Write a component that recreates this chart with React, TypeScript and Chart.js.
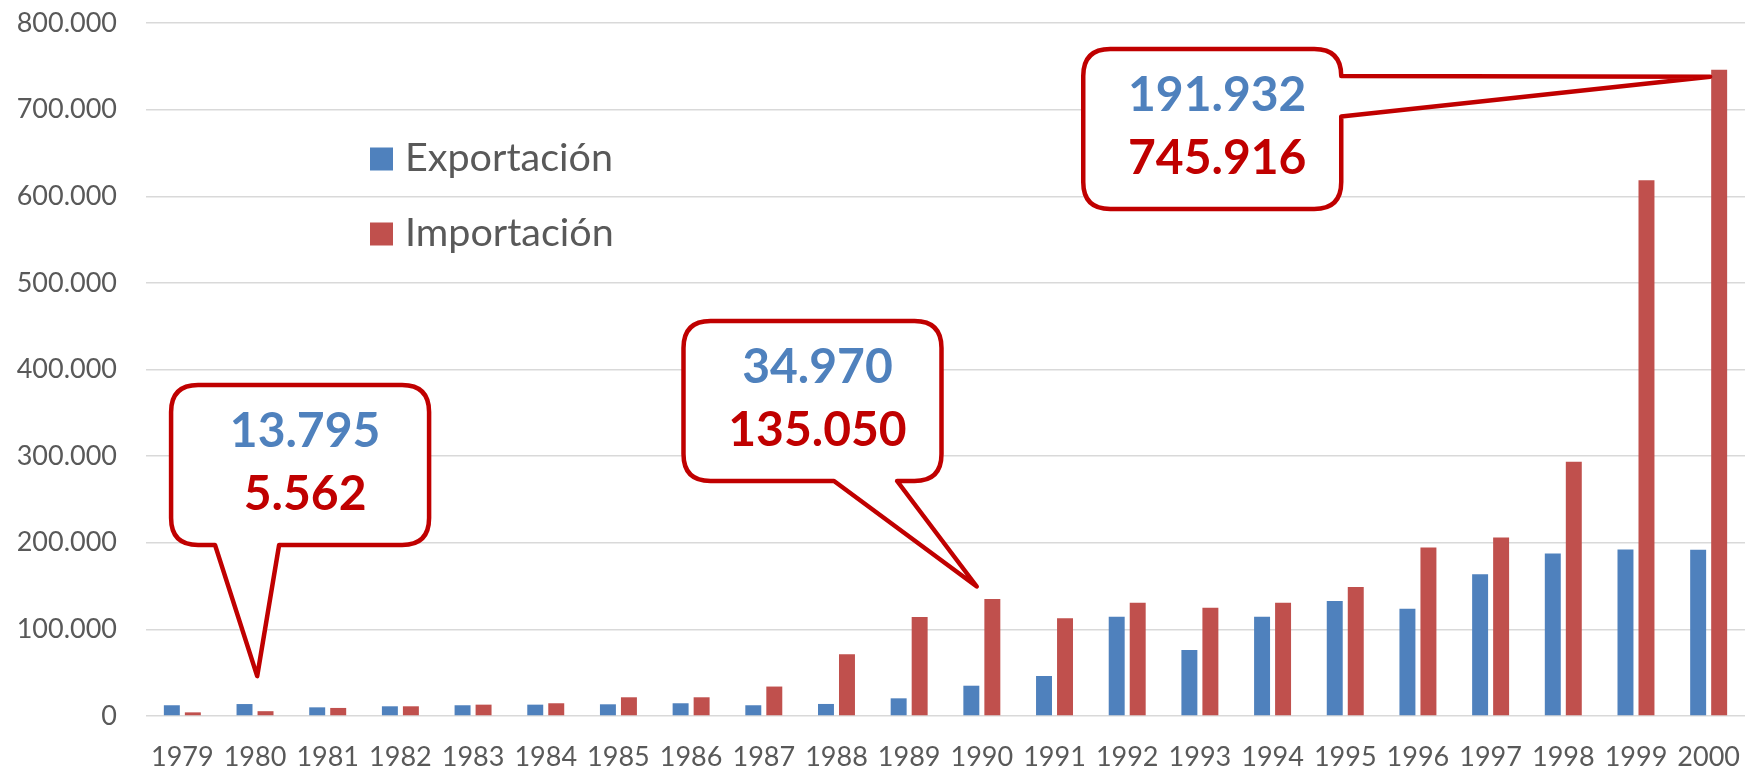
import React, { useEffect, useRef } from 'react';
import { Chart, registerables } from 'chart.js';

Chart.register(...registerables);

// ---------- data ----------
const years = ['1979', '1980', '1981', '1982', '1983', '1984', '1985', '1986', '1987', '1988', '1989', '1990', '1991', '1992', '1993', '1994', '1995', '1996', '1997', '1998', '1999', '2000'];
const exportacion = [12400, 13795, 10000, 11200, 12400, 13100, 13500, 14700, 12400, 13900, 20400, 34970, 46200, 114600, 76200, 114600, 132700, 123800, 163500, 187700, 192300, 191932];
const importacion = [4200, 5562, 9300, 11200, 13100, 14700, 21600, 21600, 34000, 71400, 114200, 135050, 112700, 130800, 125000, 130800, 148800, 194600, 206200, 293600, 618400, 745916];
const seriesLabels = ['Exportación', 'Importación'];
const yMin = 0;
const yMax = 800000;
const yStep = 100000;
const calloutYears = ['1980', '1990', '2000'];

// ---------- styles / layout ----------
const seriesColors = ['#4F81BD', '#C0504D'];
const textColor = '#595959';
const gridColor = '#D9D9D9';
const calloutLine = '#C00000';
const calloutRed = '#C00000';
const FONT = 'Lato, "Open Sans", sans-serif';

// callout geometry: box centre in category units, box top in value units, tail tip in category/value units
const calloutLayout = [
  { boxX: 1.62, boxTop: 382000, tipX: 1.03, tipV: 46000, side: 'bottom', t1: 44, t2: 108 },
  { boxX: 8.67, boxTop: 456000, tipX: 10.93, tipV: 149500, side: 'bottom', t1: 150.5, t2: 213.6 },
  { boxX: 14.17, boxTop: 770000, tipX: 21.02, tipV: 738000, side: 'right', t1: 27, t2: 67.5 },
];
const BOX_W = 258;
const BOX_H = 160;
const BOX_R = 27;

const fmt = (v: number) => String(Math.round(v)).replace(/\B(?=(\d{3})+(?!\d))/g, '.');

const calloutPlugin = {
  id: 'callouts',
  afterDatasetsDraw(chart: any) {
    const { ctx, scales } = chart;
    const x = scales.x;
    const y = scales.y;
    const x0 = x.getPixelForValue(0);
    const catW = x.getPixelForValue(1) - x0;
    calloutLayout.forEach((c, i) => {
      const idx = years.indexOf(calloutYears[i]);
      const cx = x0 + c.boxX * catW;
      const left = cx - BOX_W / 2;
      const right = cx + BOX_W / 2;
      const top = y.getPixelForValue(c.boxTop);
      const bottom = top + BOX_H;
      const tx = x0 + c.tipX * catW;
      const ty = y.getPixelForValue(c.tipV);
      const r = BOX_R;
      ctx.save();
      ctx.beginPath();
      ctx.moveTo(left + r, top);
      ctx.lineTo(right - r, top);
      ctx.quadraticCurveTo(right, top, right, top + r);
      if (c.side === 'right') {
        ctx.lineTo(right, top + c.t1);
        ctx.lineTo(tx, ty);
        ctx.lineTo(right, top + c.t2);
      }
      ctx.lineTo(right, bottom - r);
      ctx.quadraticCurveTo(right, bottom, right - r, bottom);
      if (c.side === 'bottom') {
        ctx.lineTo(left + c.t2, bottom);
        ctx.lineTo(tx, ty);
        ctx.lineTo(left + c.t1, bottom);
      }
      ctx.lineTo(left + r, bottom);
      ctx.quadraticCurveTo(left, bottom, left, bottom - r);
      ctx.lineTo(left, top + r);
      ctx.quadraticCurveTo(left, top, left + r, top);
      ctx.closePath();
      ctx.fillStyle = '#FFFFFF';
      ctx.fill();
      ctx.lineWidth = 4.5;
      ctx.lineJoin = 'round';
      ctx.strokeStyle = calloutLine;
      ctx.stroke();

      ctx.font = `bold 48px ${FONT}`;
      ctx.textAlign = 'center';
      ctx.textBaseline = 'alphabetic';
      ctx.fillStyle = seriesColors[0];
      ctx.fillText(fmt(exportacion[idx]), cx + 5, top + 45 + 17);
      ctx.fillStyle = calloutRed;
      ctx.fillText(fmt(importacion[idx]), cx + 5, top + 108 + 17);
      ctx.restore();
    });
  },
};

const legendPlugin = {
  id: 'customLegend',
  afterDraw(chart: any) {
    const { ctx, chartArea } = chart;
    const sqLeft = chartArea.left + 224;
    const sq = 23;
    ctx.save();
    chart.data.datasets.forEach((ds: any, i: number) => {
      const cy = chartArea.top + 136 + i * 75;
      ctx.fillStyle = ds.backgroundColor;
      ctx.fillRect(sqLeft, cy - sq / 2, sq, sq);
      ctx.font = `39.5px ${FONT}`;
      ctx.fillStyle = textColor;
      ctx.textAlign = 'left';
      ctx.textBaseline = 'middle';
      ctx.fillText(ds.label, sqLeft + 35, cy - 1);
    });
    ctx.restore();
  },
};

export default function App() {
  const ref = useRef<HTMLCanvasElement | null>(null);

  useEffect(() => {
    if (!ref.current) return;
    const chart = new Chart(ref.current, {
      type: 'bar',
      data: {
        labels: years,
        datasets: [
          { label: seriesLabels[0], data: exportacion, backgroundColor: seriesColors[0], barPercentage: 0.76, categoryPercentage: 0.578 },
          { label: seriesLabels[1], data: importacion, backgroundColor: seriesColors[1], barPercentage: 0.76, categoryPercentage: 0.578 },
        ],
      },
      options: {
        responsive: false,
        animation: false,
        layout: { padding: { left: 0, right: 14, top: 23, bottom: 0 } },
        plugins: {
          legend: { display: false },
          tooltip: { enabled: false },
        },
        scales: {
          x: {
            grid: { display: false, drawTicks: false },
            border: { display: false },
            ticks: {
              color: textColor,
              font: { family: FONT, size: 27 },
              padding: 25,
              maxRotation: 0,
              autoSkip: false,
            },
            afterFit: (s: any) => { s.height = 55; s.paddingLeft = 0; s.paddingRight = 0; },
          },
          y: {
            min: yMin,
            max: yMax,
            grid: { color: gridColor, lineWidth: 1.5, drawTicks: true, tickLength: 29, tickColor: 'rgba(0,0,0,0)' },
            border: { display: false },
            ticks: {
              stepSize: yStep,
              color: textColor,
              font: { family: FONT, size: 27 },
              padding: 0,
              callback: (v: any) => fmt(Number(v)),
            },
            afterFit: (s: any) => { s.width = 146; s.paddingTop = 10; s.paddingBottom = 10; },
          },
        },
      },
      plugins: [calloutPlugin, legendPlugin],
    });
    return () => chart.destroy();
  }, []);

  return (
    <div style={{ position: 'fixed', left: 0, top: 0, width: 1759, height: 771, background: '#FFFFFF' }}>
      <canvas ref={ref} width={1759} height={771} style={{ display: 'block' }} />
    </div>
  );
}
